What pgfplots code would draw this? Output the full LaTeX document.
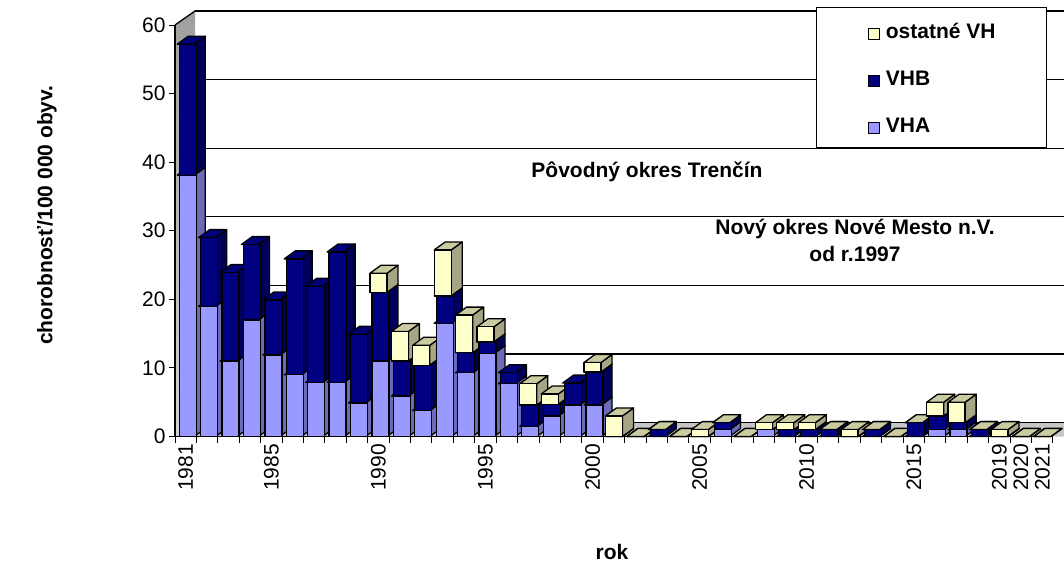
\documentclass[border=0pt]{standalone}
\usepackage{pgfplots}
\usepackage{pgfplotstable}
\pgfplotsset{compat=1.18}
\usepackage{fontspec}
\setmainfont{Liberation Sans}

\definecolor{vhaF}{HTML}{9999FF}
\definecolor{vhaS}{HTML}{6B6BB8}
\definecolor{vhaT}{HTML}{8A8AEE}
\definecolor{vhbF}{HTML}{000080}
\definecolor{vhbS}{HTML}{00005A}
\definecolor{vhbT}{HTML}{000078}
\definecolor{ostF}{HTML}{FFFFCC}
\definecolor{ostS}{HTML}{A6A686}
\definecolor{ostT}{HTML}{CBCBA2}

\pgfplotstableread{
year VHA VHB ost
1981 38.1 19.1 nan
1982 19.0 10.0 nan
1983 11.0 12.9 nan
1984 17.0 11.0 nan
1985 11.9 8.0 nan
1986 9.0 16.9 nan
1987 7.9 14.0 nan
1988 7.9 19.0 nan
1989 4.9 10.0 nan
1990 11.0 10.0 2.8
1991 5.9 5.1 4.3
1992 3.8 6.6 2.9
1993 16.5 4.0 6.7
1994 9.3 2.9 5.5
1995 12.1 1.7 2.2
1996 7.7 1.6 nan
1997 1.5 3.1 3.1
1998 3.0 1.7 1.5
1999 4.6 3.2 nan
2000 4.6 4.8 1.4
2001 0 0 3.0
2002 0 0 0
2003 0 1.0 0
2004 0 0 0
2005 0 0 1.0
2006 1.0 1.0 0
2007 0 0 0
2008 1.0 0 1.0
2009 0 1.0 1.0
2010 0 1.0 1.0
2011 0 1.0 0
2012 0 0 1.0
2013 0 1.0 0
2014 0 0 0
2015 0 2.0 0
2016 1.0 2.0 2.0
2017 1.0 1.0 3.0
2018 0 1.0 0
2019 0 0 1.0
2020 0 0 0
2021 0 0 0
}\data

\newcommand\U{6.858}   % pt per data unit (411.5pt / 60)
\def\xr{8.5}\def\xrb{19.5}\def\xlb{2.5}\def\DY{8}
% side and top face (and optionally front) of one stacked segment; origin = top front centre
\newcommand\facecode[3]{%
  \pgfmathsetmacro\hh{\pgfplotspointmeta*\U}%
  \begin{scope}[shift={(2pt,0pt)}, line width=1.3pt, draw=black, line join=round]
    \filldraw[fill=#1] (\xr pt,-\hh pt) -- (\xrb pt,-\hh pt+\DY pt) -- (\xrb pt,\DY pt) -- (\xr pt,0pt) -- cycle;
    \filldraw[fill=#2] (-\xr pt,0pt) -- (\xr pt,0pt) -- (\xrb pt,\DY pt) -- (\xlb pt,\DY pt) -- cycle;
    #3
  \end{scope}}
\pgfplotsset{faces/.style n args={3}{scatter, only marks, mark=*, mark size=0pt,
    point meta=explicit symbolic,
    scatter/@pre marker code/.code={\facecode{#1}{#2}{#3}},
    scatter/@post marker code/.code={}}}

\begin{document}
\begin{tikzpicture}[x=1pt,y=1pt]
\useasboundingbox (0,0) rectangle (1064,565);
% ---------- walls, floor and 3D faces ----------
\begin{axis}[
  at={(175pt,128.5pt)}, anchor=south west, scale only axis,
  width=878pt, height=411.5pt,
  xmin=1980.5, xmax=2021.5, ymin=0, ymax=60,
  hide axis, clip=false]
  % floor
  \fill[gray!45] (axis cs:1980.5,0) -- ([shift={(20pt,14pt)}]axis cs:1980.5,0)
     -- ([shift={(20pt,14pt)}]axis cs:2022,0) -- (axis cs:2022,0) -- cycle;
  % left wall
  \shade[top color=gray!75, bottom color=gray!35] (axis cs:1980.5,0) -- (axis cs:1980.5,60)
     -- ([shift={(20pt,14pt)}]axis cs:1980.5,60) -- ([shift={(20pt,14pt)}]axis cs:1980.5,0) -- cycle;
  \draw[black, line width=1.3pt] (axis cs:1980.5,60) -- ([shift={(20pt,14pt)}]axis cs:1980.5,60);
  % back wall grid
  \pgfplotsinvokeforeach{0,10,20,30,40,50,60}{
    \draw[black, line width=1.3pt] ([shift={(20pt,14pt)}]axis cs:1980.5,#1) -- ([shift={(20pt,14pt)}]axis cs:2023,#1);
  }
  % 3D side and top faces of the stacked bars (ostatne VH also gets its front face here)
  \addplot[faces={vhaS}{vhaT}{}] table[x=year, y=VHA, meta=VHA] {\data};
  \addplot[faces={vhbS}{vhbT}{}] table[x=year, y expr=\thisrow{VHA}+\thisrow{VHB}, meta=VHB] {\data};
  \addplot[faces={ostS}{ostT}{\filldraw[fill=ostF] (-\xr pt,-\hh pt) rectangle (\xr pt,0pt);}]
     table[x=year, y expr=\thisrow{VHA}+\thisrow{VHB}+\thisrow{ost}, meta=ost] {\data};
\end{axis}
% ---------- front faces, axes, legend ----------
\begin{axis}[
  at={(175pt,128.5pt)}, anchor=south west, scale only axis,
  width=878pt, height=411.5pt,
  xmin=1980.5, xmax=2021.5, ymin=0, ymax=60,
  ybar stacked, bar width=17pt, bar shift=2pt,
  axis x line*=bottom, axis y line*=left,
  axis line style={black, line width=1.2pt},
  xtick={1980.5,1981.5,...,2021.5}, xticklabels={},
  extra x ticks={1981,1985,1990,1995,2000,2005,2010,2015,2019,2020,2021},
  extra x tick labels={1981,1985,1990,1995,2000,2005,2010,2015,2019,2020,2021},
  extra x tick style={major tick length=0pt,
     tick label style={rotate=90, anchor=east, xshift=-4pt}},
  ytick={0,10,20,30,40,50,60},
  tick align=outside, major tick length=6pt,
  tick style={black, line width=1pt},
  ticklabel style={font=\fontsize{21}{25}\selectfont},
  /pgf/number format/assume math mode=true,
  xlabel={rok}, ylabel={chorobnosť/100 000 obyv.},
  label style={font=\bfseries\fontsize{21}{25}\selectfont},
  xlabel style={at={(axis description cs:0.4977,-0.2807)}, anchor=center},
  ylabel style={at={(axis description cs:-0.1458,0.538)}, anchor=center},
  legend style={at={(0.7301,1.0437)}, anchor=north west, draw=black, line width=1pt, fill=white,
    font=\bfseries\fontsize{21}{25}\selectfont, inner xsep=51pt, inner ysep=13pt, row sep=27pt,
    nodes={inner sep=0pt, text height=17.5pt, text depth=2.5pt},
    /tikz/every odd column/.append style={column sep=6pt}},
  legend cell align=left,
  reverse legend,
  legend image code/.code={\draw[#1] (0pt,-9pt) rectangle (11pt,2pt);},
  clip=false]
  \addplot[fill=vhaF, draw=black, line width=1.3pt] table[x=year, y=VHA] {\data};
  \addlegendentry{VHA}
  \addplot[fill=vhbF, draw=black, line width=1.3pt] table[x=year, y=VHB] {\data};
  \addlegendentry{VHB}
  \addlegendimage{fill=ostF, draw=black, line width=1.3pt}
  \addlegendentry{ostatné VH}
\end{axis}
\node[font=\bfseries\fontsize{21}{25}\selectfont] at (647,393) {Pôvodný okres Trenčín};
\node[font=\bfseries\fontsize{21}{27}\selectfont, align=center] at (855,324.5) {Nový okres Nové Mesto n.V.\\od r.1997};
\end{tikzpicture}
\end{document}
